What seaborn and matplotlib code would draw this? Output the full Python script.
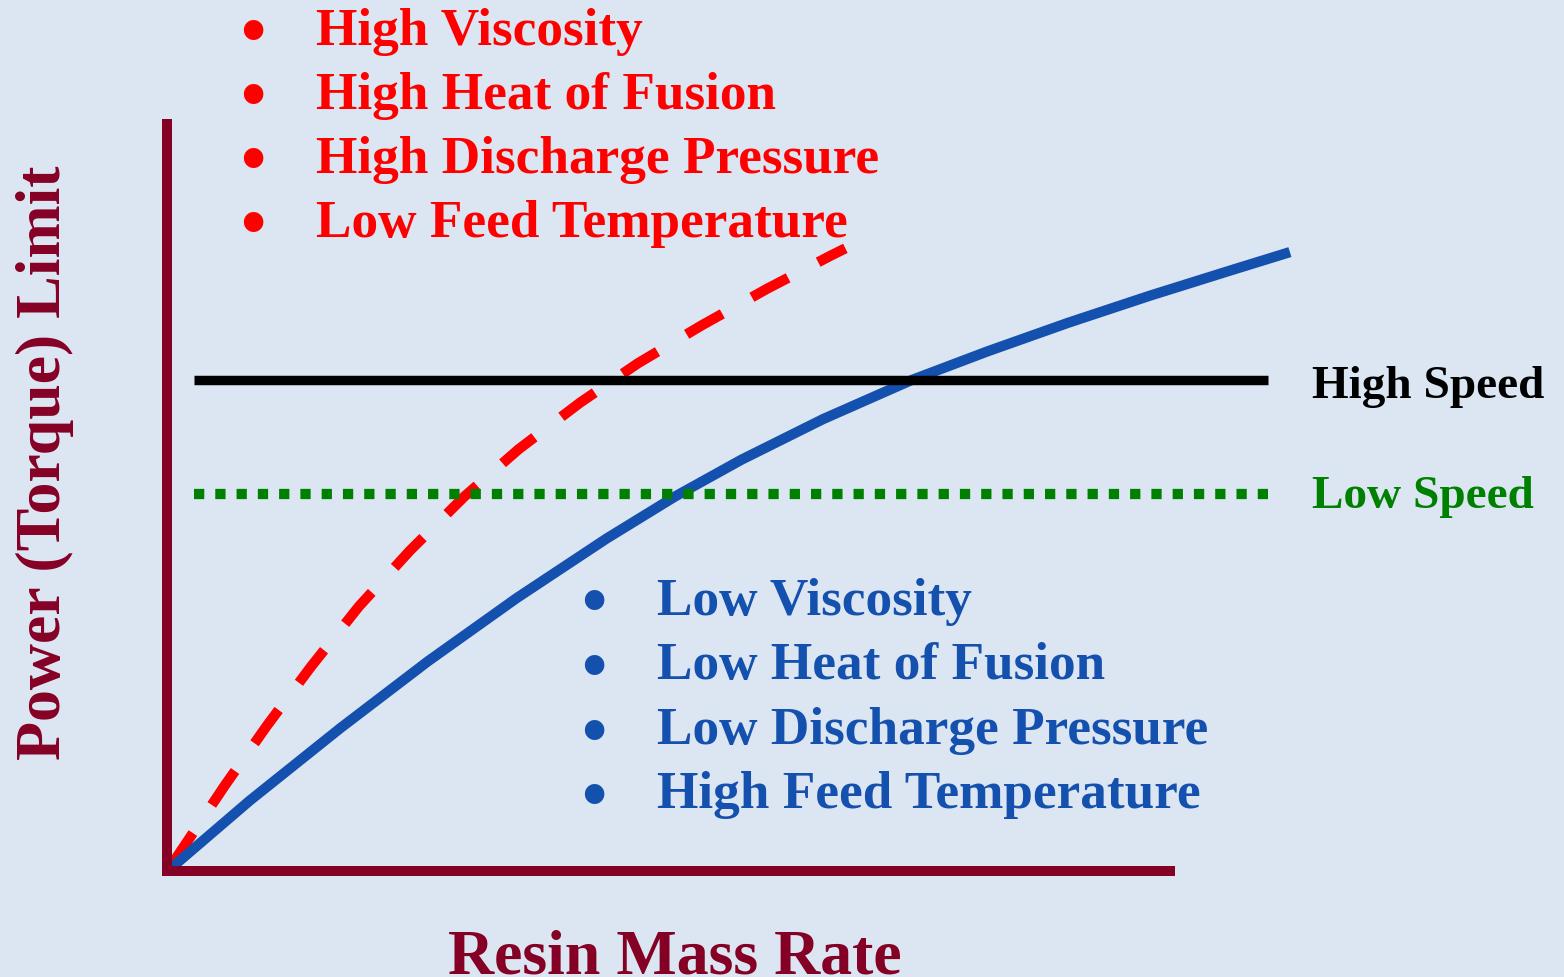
import numpy as np
import pandas as pd
import matplotlib
matplotlib.use("Agg")
import matplotlib.pyplot as plt
import seaborn as sns

# curves, axes units (origin at the corner)
blue_x = [0.5, 8.2, 17.2, 25.9, 34.7, 43.6, 50.4, 57.0, 65.1, 73.9, 81.4, 89.4, 97.5, 105.6, 111.4]
blue_y = [0.5, 9.35, 19.0, 27.9, 36.3, 44.2, 49.8, 54.7, 60.1, 65.3, 69.1, 72.9, 76.5, 79.9, 82.3]

red_x = [0.3, 5.75, 9.9, 14.3, 19.05, 24.1, 29.5, 34.9, 41.0, 46.7, 53.1, 59.5, 65.8, 67.3]
red_y = [0.5, 11.4, 19.3, 27.2, 35.2, 42.6, 49.8, 56.1, 62.3, 67.5, 72.6, 77.4, 81.8, 82.8]

speed_x = [2.7, 109.2]
high_speed = 65.3
low_speed = 50.1

red_items = ["High Viscosity", "High Heat of Fusion", "High Discharge Pressure", "Low Feed Temperature"]
blue_items = ["Low Viscosity", "Low Heat of Fusion", "Low Discharge Pressure", "High Feed Temperature"]

BG = "#dce6f2"
AXC = "#850025"
RED = "#ff0000"
BLUE = "#1450ae"
GREEN = "#008000"

sns.set_style("white")
plt.rcParams['font.family'] = ['Liberation Serif', 'DejaVu Serif']
plt.rcParams['font.weight'] = 'bold'

W, H = 1564, 978
fig = plt.figure(figsize=(W/100, H/100), dpi=100, facecolor=BG)
ax = fig.add_axes([167/W, 1-872/H, 1003/W, 747/H], facecolor=BG)

def px(x, y):
	return x/W, 1-y/H

sns.lineplot(x=red_x, y=red_y, ax=ax, color=RED, linewidth=7.4, sort=False, estimator=None,
	linestyle=(0, (4.0, 3.3)), clip_on=False, solid_capstyle='butt')
sns.lineplot(x=blue_x, y=blue_y, ax=ax, color=BLUE, linewidth=7.4, sort=False, estimator=None,
	clip_on=False, solid_capstyle='butt')
sns.lineplot(x=speed_x, y=[high_speed]*2, ax=ax, color="black", linewidth=6.8, estimator=None,
	clip_on=False, solid_capstyle='butt')
sns.lineplot(x=speed_x, y=[low_speed]*2, ax=ax, color=GREEN, linewidth=7.4, estimator=None,
	linestyle=(0, (1.0, 1.07)), clip_on=False)

ax.set_xlim(0, 1003/10.08)
ax.set_ylim(0, 747/7.52)
ax.set_xticks([])
ax.set_yticks([])
for s in ['top', 'right']:
	ax.spines[s].set_visible(False)
for s in ['left', 'bottom']:
	ax.spines[s].set_color(AXC)
	ax.spines[s].set_linewidth(7.2)
	ax.spines[s].set_capstyle('projecting')

# bullet lists
for i, t in enumerate(red_items):
	yb = 45 + 64*i
	fig.text(*px(253, yb - 9), "\u2022", color=RED, fontsize=52, ha='center', va='center')
	fig.text(*px(316, yb), t, color=RED, fontsize=38.3, ha='left', va='baseline')
for i, t in enumerate(blue_items):
	yb = 615 + 64.5*i
	fig.text(*px(594, yb - 8), "\u2022", color=BLUE, fontsize=52, ha='center', va='center')
	fig.text(*px(657, yb), t, color=BLUE, fontsize=38.3, ha='left', va='baseline')

fig.text(*px(1312, 398), "High Speed", color="black", fontsize=34, ha='left', va='baseline')
fig.text(*px(1312, 508), "Low Speed", color=GREEN, fontsize=34, ha='left', va='baseline')

fig.text(*px(60, 463), "Power (Torque) Limit", color=AXC, fontsize=46, rotation=90,
	rotation_mode='anchor', ha='center', va='baseline')
fig.text(*px(675, 974), "Resin Mass Rate", color=AXC, fontsize=46, ha='center', va='baseline')

fig.savefig("out.png", dpi=100, facecolor=BG)
